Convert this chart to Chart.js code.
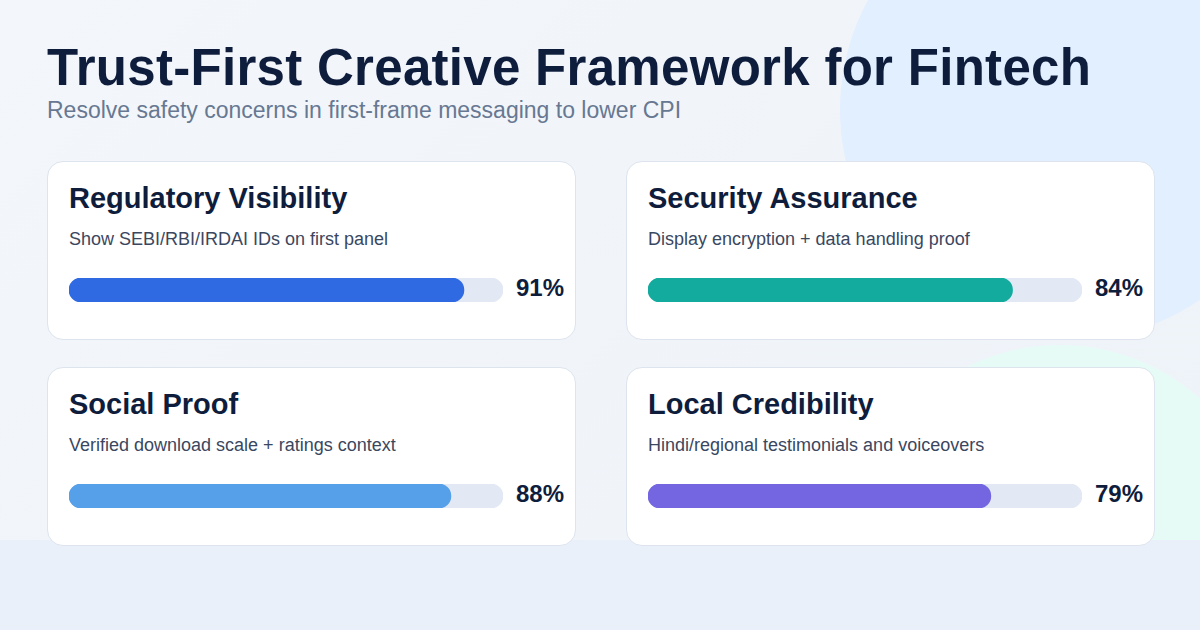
<!DOCTYPE html>
<html><head><meta charset="utf-8">
<script src="https://cdn.jsdelivr.net/npm/chart.js@4"></script>
<style>
body{margin:0;width:1200px;height:630px;overflow:hidden;font-family:"Liberation Sans",Arial,sans-serif;background:linear-gradient(135deg,#f3f6fa,#eef3f9);position:relative}
.c1{position:absolute;left:840px;top:-120px;width:460px;height:460px;border-radius:50%;background:#e2efff}
.c2{position:absolute;left:850px;top:345px;width:420px;height:420px;border-radius:50%;background:#e6fbf6}
.band{position:absolute;left:0;top:540px;width:1200px;height:90px;background:#eaf0f9}
h1{position:absolute;left:47px;top:38px;margin:0;font-size:51px;font-weight:bold;color:#0f1d3d;letter-spacing:0.3px}
.sub{position:absolute;left:47px;top:97px;font-size:23px;color:#677892}
.card{position:absolute;width:527px;height:177px;background:#fff;border:1.5px solid #dde4ee;border-radius:16px}
.card .t{position:absolute;left:21px;top:20px;font-size:29px;font-weight:bold;color:#0f1d3d}
.card .s{position:absolute;left:21px;top:67px;font-size:18px;color:#3a475f}
.card .w{position:absolute;left:21px;top:116px;width:434px;height:24px}
.card .p{position:absolute;left:468px;top:112px;font-size:24px;font-weight:bold;color:#0f1d3d}
</style></head><body>
<div class="c1"></div><div class="c2"></div><div class="band"></div>
<h1>Trust-First Creative Framework for Fintech</h1>
<div class="sub">Resolve safety concerns in first-frame messaging to lower CPI</div>
<div id="cards"></div>
<script>
const titles=["Regulatory Visibility","Security Assurance","Social Proof","Local Credibility"];
const descriptions=["Show SEBI/RBI/IRDAI IDs on first panel","Display encryption + data handling proof","Verified download scale + ratings context","Hindi/regional testimonials and voiceovers"];
const values=[91,84,88,79];
const colors=["#2f6ae3","#14ab9f","#55a0e8","#7466e0"];
const pos=[[47,161],[626,161],[47,367],[626,367]];
const host=document.getElementById('cards');
titles.forEach((t,i)=>{
  const d=document.createElement('div');d.className='card';
  d.style.left=pos[i][0]+'px';d.style.top=pos[i][1]+'px';
  d.innerHTML=`<div class="t">${t}</div><div class="s">${descriptions[i]}</div><div class="w"><canvas></canvas></div><div class="p">${values[i]}%</div>`;
  host.appendChild(d);
  new Chart(d.querySelector('canvas'),{type:'bar',
    data:{labels:[t],datasets:[
      {data:[values[i]],backgroundColor:colors[i],borderRadius:12,borderSkipped:false,barPercentage:1,categoryPercentage:1,order:0},
      {data:[100],backgroundColor:'#e2e9f5',borderRadius:12,borderSkipped:false,barPercentage:1,categoryPercentage:1,order:1}]},
    options:{indexAxis:'y',responsive:true,maintainAspectRatio:false,animation:false,
      layout:{padding:0},
      plugins:{legend:{display:false},tooltip:{enabled:false}},
      scales:{x:{display:false,min:0,max:100},y:{display:false,stacked:true}},
      datasets:{bar:{grouped:false}}}});
});
</script></body></html>
